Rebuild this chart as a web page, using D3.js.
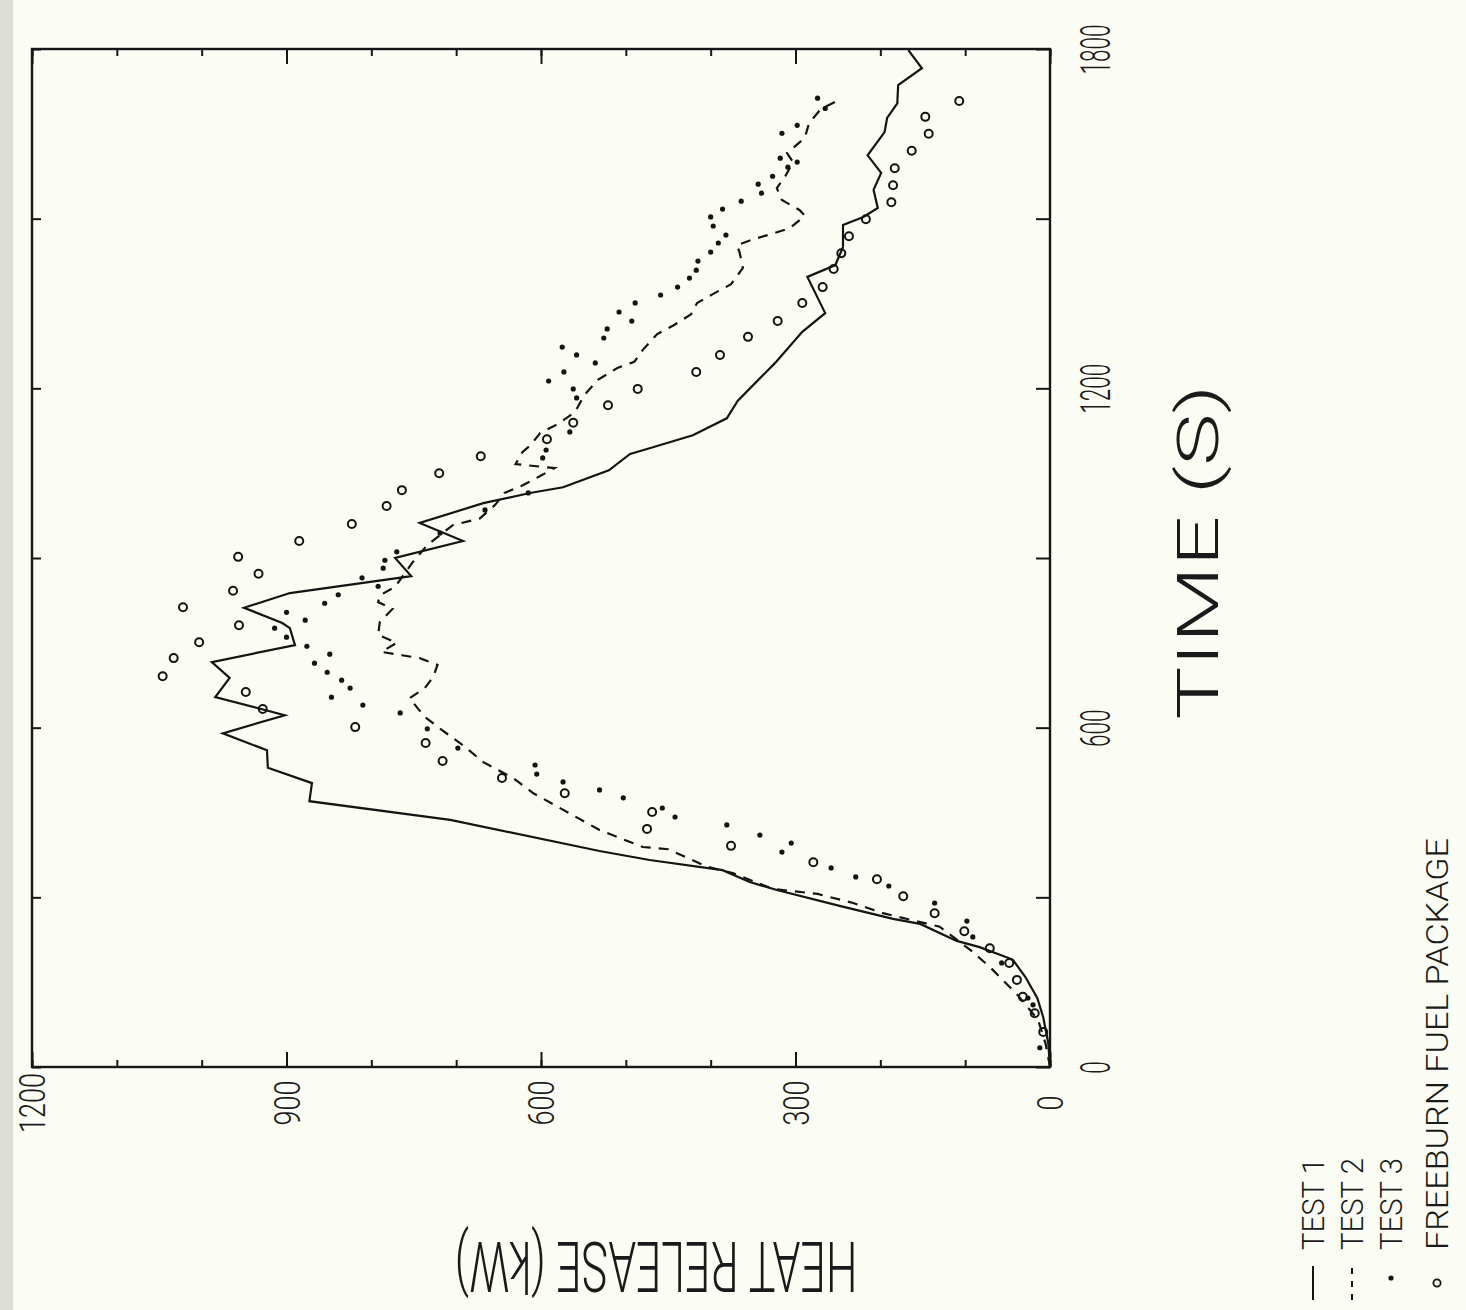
<!DOCTYPE html>
<html>
<head>
<meta charset="utf-8">
<script src="https://cdn.jsdelivr.net/npm/d3@7"></script>
<style>
    body { margin: 0; background: #fbfcf3; }
    svg { display: block; }
    .tick line { stroke: #161616; stroke-width: 2; }
    .label { font-family: Roboto, "Liberation Sans Narrow", sans-serif; font-weight: 300; fill: #1a1a1a; }
</style>
</head>
<body>
<div id="chart"></div>
<script>

// Test 1 (solid line)
var test1Time = [0, 42, 88, 122, 159, 190, 212, 223, 253, 262, 285, 313, 327, 348, 366, 382, 437, 470, 502, 529,
    560, 590, 622, 654, 688, 716, 746, 776, 785, 812, 838, 868, 900, 930, 962, 997, 1015, 1025, 1055, 1084,
    1094, 1117, 1147, 1178, 1245, 1300, 1333, 1397, 1418, 1450, 1489, 1503, 1519, 1551, 1581, 1612, 1653, 1678, 1704, 1736,
    1766, 1798];
var test1Kw = [0, 2, 8, 15, 29, 44, 83, 110, 153, 185, 248, 322, 354, 386, 472, 531, 707, 873, 870, 922,
    923, 975, 902, 984, 967, 988, 890, 896, 905, 950, 896, 753, 772, 692, 743, 668, 613, 574, 520, 495,
    472, 421, 381, 368, 324, 292, 265, 286, 253, 244, 244, 220, 203, 208, 199, 215, 195, 192, 180, 179,
    151, 167];

// Test 2 (dashed line)
var test2Time = [0, 40, 83, 127, 177, 207, 248, 272, 290, 306, 315, 343, 354, 385, 389, 419, 484, 511, 539, 569,
    596, 619, 652, 670, 690, 711, 723, 728, 734, 750, 764, 787, 810, 822, 834, 849, 893, 923, 958, 970,
    994, 1015, 1029, 1045, 1059, 1066, 1087, 1100, 1121, 1137, 1158, 1188, 1215, 1236, 1247, 1268, 1296, 1312, 1331, 1351,
    1367, 1384, 1413, 1441, 1453, 1464, 1473, 1483, 1505, 1515, 1533, 1554, 1575, 1600, 1616, 1643, 1669, 1694, 1708];
var test2Kw = [0, 5, 14, 38, 71, 94, 130, 197, 232, 274, 327, 374, 404, 450, 480, 531, 609, 633, 668, 692,
    717, 737, 755, 737, 727, 722, 743, 764, 788, 770, 792, 790, 775, 792, 790, 772, 751, 734, 704, 672,
    654, 643, 621, 601, 584, 630, 622, 612, 601, 580, 560, 549, 533, 510, 490, 480, 463, 443, 423, 416,
    397, 376, 362, 366, 369, 349, 328, 307, 289, 295, 316, 322, 312, 303, 310, 289, 284, 270, 251];

// Test 3 (dots)
var test3Time = [34, 110, 122, 184, 230, 258, 290, 320, 336, 352, 380, 396, 410, 428, 442, 458, 476, 490, 504, 518,
    534, 564, 598, 626, 640, 654, 670, 684, 698, 714, 730, 744, 760, 776, 790, 804, 820, 835, 850, 865,
    882, 896, 911, 944, 985, 1015, 1077, 1091, 1123, 1183, 1199, 1213, 1229, 1245, 1259, 1273, 1289, 1305, 1319, 1335,
    1351, 1365, 1379, 1395, 1409, 1425, 1441, 1457, 1471, 1487, 1503, 1517, 1531, 1545, 1561, 1575, 1591, 1600, 1607, 1651,
    1665, 1695, 1713];
var test3Kw = [12, 20, 26, 57, 91, 98, 136, 190, 229, 258, 316, 305, 342, 381, 442, 457, 503, 531, 574, 605,
    607, 698, 734, 766, 810, 847, 825, 835, 852, 867, 849, 876, 900, 914, 878, 900, 855, 839, 792, 811,
    786, 784, 770, 719, 666, 615, 598, 594, 566, 558, 562, 591, 573, 536, 558, 575, 526, 522, 493, 508,
    489, 459, 439, 425, 417, 415, 400, 391, 382, 397, 400, 386, 364, 340, 344, 327, 309, 298, 318, 316,
    298, 265, 274];

// Freeburn fuel package (open circles)
var freeburnTime = [62, 95, 124, 154, 184, 210, 240, 272, 302, 332, 362, 391, 421, 451, 484, 511, 541, 573, 601, 633,
    663, 691, 723, 751, 781, 813, 842, 872, 902, 930, 960, 992, 1020, 1050, 1080, 1110, 1139, 1170, 1199, 1229,
    1259, 1291, 1319, 1351, 1379, 1411, 1439, 1469, 1499, 1529, 1559, 1589, 1620, 1650, 1680, 1708];
var freeburnKw = [8, 18, 32, 39, 48, 71, 101, 136, 173, 204, 279, 376, 475, 469, 572, 646, 716, 736, 819, 928,
    948, 1046, 1033, 1003, 956, 1022, 963, 933, 957, 885, 823, 782, 764, 720, 671, 593, 562, 521, 486, 417,
    389, 356, 321, 292, 268, 255, 246, 237, 217, 187, 185, 183, 163, 143, 147, 107];

var heatTicks = [0, 300, 600, 900, 1200];
var timeTicks = [0, 600, 1200, 1800];
var legendLabels = ["TEST 1", "TEST 2", "TEST 3", "FREEBURN FUEL PACKAGE"];


HeatVis = function(_parentElement) {
    this.parentElement = _parentElement;
    this.initVis();
};

/* INITIALIZE VISUALIZATION (the page is printed sideways) */
HeatVis.prototype.initVis = function() {
    var vis = this;

    vis.width = 1466;
    vis.height = 1310;
    vis.frame = { left: 32, right: 1050, top: 49, bottom: 1067 };

    vis.svg = d3.select("#" + vis.parentElement).append("svg")
        .attr("width", vis.width)
        .attr("height", vis.height);

    vis.svg.append("rect")
        .attr("width", vis.width)
        .attr("height", vis.height)
        .attr("fill", "#fbfcf3");

    // scanner shadow on the left edge
    vis.svg.append("rect")
        .attr("width", 13)
        .attr("height", vis.height)
        .attr("fill", "#dcddd4");

    // heat release runs right-to-left, time runs bottom-to-top
    vis.x = d3.scaleLinear()
        .domain([0, 1200])
        .range([vis.frame.right, vis.frame.left]);

    vis.y = d3.scaleLinear()
        .domain([0, 1800])
        .range([vis.frame.bottom, vis.frame.top]);

    vis.drawAxes();
    vis.wrangleData();
};

HeatVis.prototype.drawAxes = function() {
    var vis = this;
    var f = vis.frame;

    function ticks(axis, translate) {
        vis.svg.append("g")
            .attr("class", "axis")
            .attr("transform", translate)
            .call(axis.tickFormat("").tickSizeOuter(0))
            .call(function(g) { g.select(".domain").remove(); });
    }

    var minorKw = d3.range(0, 1201, 100);
    ticks(d3.axisBottom(vis.x).tickValues(minorKw).tickSize(-7), "translate(0," + f.bottom + ")");
    ticks(d3.axisBottom(vis.x).tickValues(heatTicks).tickSize(-15), "translate(0," + f.bottom + ")");
    ticks(d3.axisTop(vis.x).tickValues(minorKw).tickSize(-7), "translate(0," + f.top + ")");
    ticks(d3.axisTop(vis.x).tickValues(heatTicks).tickSize(-15), "translate(0," + f.top + ")");

    var timeMarks = d3.range(0, 1801, 300);
    ticks(d3.axisRight(vis.y).tickValues(timeMarks).tickSize(-14), "translate(" + f.right + ",0)");
    ticks(d3.axisLeft(vis.y).tickValues(timeMarks).tickSize(-9), "translate(" + f.left + ",0)");

    vis.svg.append("rect")
        .attr("x", f.left)
        .attr("y", f.top)
        .attr("width", f.right - f.left)
        .attr("height", f.bottom - f.top)
        .attr("fill", "none")
        .attr("stroke", "#161616")
        .attr("stroke-width", 2.4);

    // Tick labels, rotated with the page
    vis.svg.append("g")
        .attr("transform", "translate(0,1103)")
        .call(d3.axisBottom(vis.x).tickValues(heatTicks).tickSize(0).tickFormat(d3.format("d")))
        .call(function(g) { g.select(".domain").remove(); })
        .selectAll("text")
        .attr("class", "label")
        .attr("y", 0)
        .attr("dy", "0.35em")
        .attr("transform", "rotate(-90)")
        .attr("textLength", function(d) { return String(d).length * 15; })
        .attr("lengthAdjust", "spacingAndGlyphs")
        .style("text-anchor", "middle")
        .style("font-size", "36px");

    vis.svg.append("g")
        .attr("transform", "translate(1101,0)")
        .call(d3.axisRight(vis.y).tickValues(timeTicks).tickSize(0).tickFormat(d3.format("d")))
        .call(function(g) { g.select(".domain").remove(); })
        .selectAll("text")
        .attr("class", "label")
        .attr("x", 0)
        .attr("y", -6)
        .attr("dy", "0.35em")
        .attr("transform", "rotate(-90)")
        .attr("textLength", function(d) { return String(d).length * 12.5; })
        .attr("lengthAdjust", "spacingAndGlyphs")
        .style("text-anchor", "middle")
        .style("font-size", "42px");

    // Axis titles
    vis.svg.append("text")
        .attr("class", "label")
        .attr("transform", "translate(1218,552) rotate(-90)")
        .attr("text-anchor", "middle")
        .attr("textLength", 335)
        .attr("lengthAdjust", "spacingAndGlyphs")
        .style("font-size", "58px")
        .text("TIME (S)");

    vis.svg.append("text")
        .attr("class", "label")
        .attr("transform", "translate(656,1242) rotate(180)")
        .attr("text-anchor", "middle")
        .attr("textLength", 403)
        .attr("lengthAdjust", "spacingAndGlyphs")
        .style("font-size", "70px")
        .text("HEAT RELEASE (kW)");
};

HeatVis.prototype.wrangleData = function() {
    var vis = this;

    vis.test1 = d3.zip(test1Time, test1Kw);
    vis.test2 = d3.zip(test2Time, test2Kw);
    vis.test3 = d3.zip(test3Time, test3Kw);
    vis.freeburn = d3.zip(freeburnTime, freeburnKw);

    vis.updateVis();
};

HeatVis.prototype.updateVis = function() {
    var vis = this;

    var line = d3.line()
        .x(function(d) { return vis.x(d[1]); })
        .y(function(d) { return vis.y(d[0]); });

    vis.svg.append("path")
        .datum(vis.test1)
        .attr("d", line)
        .attr("fill", "none")
        .attr("stroke", "#141414")
        .attr("stroke-width", 2.2);

    vis.svg.append("path")
        .datum(vis.test2)
        .attr("d", line)
        .attr("fill", "none")
        .attr("stroke", "#141414")
        .attr("stroke-width", 2.2)
        .attr("stroke-dasharray", "10,8");

    vis.svg.append("g").selectAll("circle")
        .data(vis.test3)
        .enter().append("circle")
        .attr("cx", function(d) { return vis.x(d[1]); })
        .attr("cy", function(d) { return vis.y(d[0]); })
        .attr("r", 2.6)
        .attr("fill", "#141414");

    vis.svg.append("g").selectAll("circle")
        .data(vis.freeburn)
        .enter().append("circle")
        .attr("cx", function(d) { return vis.x(d[1]); })
        .attr("cy", function(d) { return vis.y(d[0]); })
        .attr("r", 4)
        .attr("fill", "none")
        .attr("stroke", "#141414")
        .attr("stroke-width", 2);

    // Legend, one row per series, reading upward
    var legendX = [1313, 1352, 1391, 1437];
    var rows = vis.svg.selectAll(".legend-row")
        .data(legendLabels)
        .enter().append("g")
        .attr("class", "legend-row")
        .attr("transform", function(d, i) { return "translate(" + legendX[i] + ",1300) rotate(-90)"; });

    rows.filter(function(d, i) { return i < 2; })
        .append("line")
        .attr("x1", 0)
        .attr("x2", 34)
        .attr("stroke", "#141414")
        .attr("stroke-width", 2)
        .attr("stroke-dasharray", function(d, i) { return i === 1 ? "6,7" : null; });

    rows.filter(function(d, i) { return i === 2; })
        .append("circle")
        .attr("cx", 22)
        .attr("r", 2.6)
        .attr("fill", "#141414");

    rows.filter(function(d, i) { return i === 3; })
        .append("circle")
        .attr("cx", 17)
        .attr("r", 3.6)
        .attr("fill", "none")
        .attr("stroke", "#141414")
        .attr("stroke-width", 1.8);

    rows.append("text")
        .attr("class", "label")
        .attr("x", 50)
        .attr("dy", "0.35em")
        .attr("textLength", function(d) { return d.length > 6 ? 412 : 92; })
        .attr("lengthAdjust", "spacingAndGlyphs")
        .style("font-size", "32px")
        .text(function(d) { return d; });
};

new HeatVis("chart");

</script>
</body>
</html>
